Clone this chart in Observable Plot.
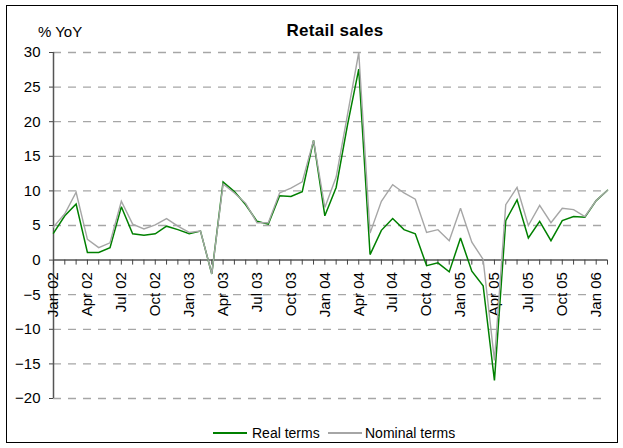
<!DOCTYPE html>
<html>
<head>
<meta charset="utf-8">
<script src="https://cdn.jsdelivr.net/npm/d3@7"></script>
<script src="https://cdn.jsdelivr.net/npm/@observablehq/plot@0.6"></script>
<style>
  body { margin: 0; background: #fff; font-family: "Liberation Sans", Arial, sans-serif; }
  #wrap { position: relative; width: 623px; height: 448px; overflow: hidden; background: #fff; }
  #frame { position: absolute; left: 6px; top: 5px; width: 612px; height: 438px; border: 1.5px solid #000; box-sizing: border-box; }
  #chart { position: absolute; left: 0; top: 0; }
  .txt { position: absolute; white-space: nowrap; line-height: 1; color: #000; }
  #title { left: 235px; width: 200px; top: 22px; text-align: center; font-weight: bold; font-size: 17px; letter-spacing: 0.3px; }
  #unit { left: 38px; top: 24px; font-size: 15px; }
  .lg-line { position: absolute; height: 1.5px; }
  .lg-text { position: absolute; font-size: 14px; line-height: 1; top: 426px; }
</style>
</head>
<body>
<div id="wrap">
  <div id="frame"></div>
  <div id="chart"></div>
  <div id="title" class="txt">Retail sales</div>
  <div id="unit" class="txt">% YoY</div>
  <div class="lg-line" style="left:213px; top:432px; width:34px; background:#008000;"></div>
  <div class="lg-text" style="left:252px;">Real terms</div>
  <div class="lg-line" style="left:328px; top:432px; width:34px; background:#a6a6a6;"></div>
  <div class="lg-text" style="left:365px;">Nominal terms</div>
</div>
<script>
// Monthly, Jan 2002 .. Feb 2006 (50 months)
const xLabels = ["Jan 02","Apr 02","Jul 02","Oct 02","Jan 03","Apr 03","Jul 03","Oct 03",
                 "Jan 04","Apr 04","Jul 04","Oct 04","Jan 05","Apr 05","Jul 05","Oct 05","Jan 06"];
const yTicks = [-20, -15, -10, -5, 0, 5, 10, 15, 20, 25, 30];

const real = [3.9, 6.4, 8.1, 1.1, 1.1, 1.8, 7.7, 3.8, 3.6, 3.8,
              4.9, 4.4, 3.8, 4.2, -2.0, 11.3, 9.9, 8.0, 5.6, 5.2,
              9.3, 9.2, 9.9, 17.3, 6.4, 10.5, 19.5, 27.6, 0.8, 4.3,
              6.0, 4.4, 3.8, -0.8, -0.4, -1.7, 3.2, -1.6, -3.7, -17.4,
              5.7, 8.7, 3.2, 5.6, 2.8, 5.7, 6.3, 6.2, 8.6, 10.1];
const nominal = [4.8, 6.7, 9.8, 3.0, 1.8, 2.5, 8.5, 5.2, 4.5, 5.1,
                 6.0, 4.9, 4.0, 4.2, -2.0, 11.0, 9.7, 8.2, 5.4, 5.4,
                 9.7, 10.4, 11.3, 17.3, 7.6, 12.0, 21.0, 30.0, 3.9, 8.5,
                 10.9, 9.7, 8.8, 4.0, 4.4, 2.8, 7.5, 2.6, 0.1, -14.5,
                 8.0, 10.5, 5.0, 7.9, 5.4, 7.5, 7.3, 6.3, 8.6, 10.1];

const monthIdx = real.map((_, i) => i);
const lastIdx = real.length - 1;
const gridVals = yTicks.filter(v => v !== 0);

const plot = Plot.plot({
  width: 623,
  height: 448,
  marginLeft: 53,
  marginRight: 16,
  marginTop: 52,
  marginBottom: 50,
  style: { fontFamily: "'Liberation Sans', Arial, sans-serif", fontSize: "15px", background: "transparent", color: "#000" },
  x: { domain: [0, lastIdx], axis: null },
  y: { domain: [-20, 30], axis: null },
  marks: [
    Plot.ruleY(gridVals, { x1: () => 0, x2: () => lastIdx, stroke: "#a6a6a6", strokeWidth: 1.3, strokeDasharray: "8,7" }),
    Plot.axisY(yTicks, { tickSize: 4, tickPadding: 9, fontSize: 15, stroke: "#444" }),
    Plot.ruleX([0], { y1: () => -20, y2: () => 30, stroke: "#555", strokeWidth: 1.5 }),
    Plot.ruleY([0], { x1: () => 0, x2: () => lastIdx, stroke: "#555", strokeWidth: 1.5 }),
    Plot.ruleX(monthIdx, { x: d => d, y1: () => 0, y2: () => 0, insetBottom: -5, stroke: "#444", strokeWidth: 1 }),
    Plot.text(xLabels, { x: (d, i) => i * 3, y: () => 0, text: d => d, rotate: -90, textAnchor: "end", dy: 12, fontSize: 15, fill: "#000" }),
    Plot.lineY(real, { stroke: "#008000", strokeWidth: 1.5, strokeLinejoin: "miter", strokeMiterlimit: 3 }),
    Plot.lineY(nominal, { stroke: "#a6a6a6", strokeWidth: 1.4, strokeLinejoin: "miter", strokeMiterlimit: 3 })
  ]
});
document.getElementById("chart").appendChild(plot);
</script>
</body>
</html>
